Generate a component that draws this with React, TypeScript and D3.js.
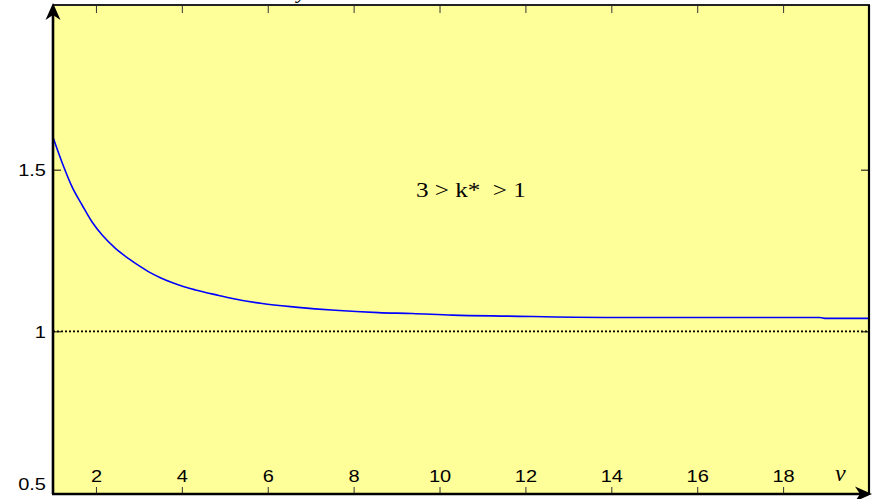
import React, { useEffect, useRef } from 'react';
import * as d3 from 'd3';

// curve: nu on x, k on y
const nuValues = [1, 1.22, 1.45, 1.68, 1.91, 2.15, 2.46, 2.77, 3.0, 3.23, 3.5, 3.77, 4.05, 4.32, 4.86, 5.09, 5.87, 6.64, 7.57, 8.58, 9.36, 10.3, 11.6, 13.85, 18.85, 19.0, 20];
const kValues = [1.6, 1.519, 1.445, 1.39, 1.338, 1.297, 1.256, 1.224, 1.203, 1.184, 1.166, 1.151, 1.138, 1.128, 1.111, 1.104, 1.086, 1.075, 1.065, 1.058, 1.055, 1.05, 1.047, 1.043, 1.043, 1.04, 1.04];

const xTicks = [2, 4, 6, 8, 10, 12, 14, 16, 18];
const yTicks = [0.5, 1, 1.5];
const yTickLabels = ['0.5', '1', '1.5'];
const refLevel = 1;

const width = 875;
const height = 499;
const margin = { left: 53, right: 6, top: 5, bottom: 6 };
const sansFont = '"Liberation Sans", Arial, sans-serif';
const serifFont = '"Liberation Serif", "Times New Roman", serif';

export default function App() {
    const svgRef = useRef<SVGSVGElement>(null);

    useEffect(() => {
        const svg = d3.select(svgRef.current);
        svg.selectAll('*').remove();

        const x0 = margin.left;
        const x1 = width - margin.right;
        const y0 = height - margin.bottom;
        const y1 = margin.top;

        const xScale = d3.scaleLinear().domain([1, 20]).range([x0, x1]);
        const yScale = d3.scaleLinear().domain([0.5, 2]).range([y0, y1 + 3]);

        // plot background
        svg.append('rect')
            .attr('x', x0).attr('y', y1)
            .attr('width', x1 - x0).attr('height', y0 - y1)
            .attr('fill', '#ffff99');

        // axis label cut off at the very top, as in the source
        svg.append('text')
            .attr('x', 297).attr('y', -2)
            .attr('font-family', serifFont)
            .attr('font-style', 'italic')
            .attr('font-size', 22)
            .text('y');

        // reference line k = 1
        svg.append('line')
            .attr('x1', x0).attr('x2', x1)
            .attr('y1', yScale(refLevel)).attr('y2', yScale(refLevel))
            .attr('stroke', '#000')
            .attr('stroke-width', 1.6)
            .attr('stroke-dasharray', '2,2');

        // curve
        const points = nuValues.map((v, i) => [v, kValues[i]] as [number, number]);
        const line = d3.line<[number, number]>()
            .x((d) => xScale(d[0]))
            .y((d) => yScale(d[1]))
            .curve(d3.curveMonotoneX);
        svg.append('path')
            .attr('d', line(points))
            .attr('fill', 'none')
            .attr('stroke', '#0000ff')
            .attr('stroke-width', 1.6);

        // ticks: bottom (up), top (down), left and right (inward)
        const bottomAxis = d3.axisBottom(xScale).tickValues(xTicks).tickSize(-6).tickFormat(d3.format('d'));
        const gb = svg.append('g').attr('transform', `translate(0, ${y0})`).call(bottomAxis);
        gb.select('.domain').remove();
        gb.selectAll('line').attr('stroke', '#333').attr('stroke-width', 1);
        gb.selectAll('text')
            .attr('y', -11).attr('dy', 0)
            .attr('transform', 'scale(1.25,1)')
            .attr('font-family', sansFont)
            .attr('font-size', 16)
            .attr('fill', '#000');

        const topAxis = d3.axisTop(xScale).tickValues(xTicks).tickSize(-8).tickFormat(() => '');
        const gt = svg.append('g').attr('transform', `translate(0, ${y1})`).call(topAxis);
        gt.select('.domain').remove();
        gt.selectAll('line').attr('stroke', '#333').attr('stroke-width', 1);

        const leftAxis = d3.axisLeft(yScale).tickValues(yTicks.slice(1)).tickSize(-8).tickFormat(() => '');
        const gl = svg.append('g').attr('transform', `translate(${x0}, 0)`).call(leftAxis);
        gl.select('.domain').remove();
        gl.selectAll('line').attr('stroke', '#000').attr('stroke-width', 1);

        const rightAxis = d3.axisRight(yScale).tickValues(yTicks.slice(1)).tickSize(-8).tickFormat(() => '');
        const gr = svg.append('g').attr('transform', `translate(${x1}, 0)`).call(rightAxis);
        gr.select('.domain').remove();
        gr.selectAll('line').attr('stroke', '#000').attr('stroke-width', 1);

        // y tick labels outside the left axis
        svg.append('g').selectAll('text')
            .data(yTicks)
            .enter().append('text')
            .attr('transform', (d) => `translate(${x0 - 7}, ${Math.min(yScale(d) + 2, y0 - 7)}) scale(1.25,1)`)
            .attr('text-anchor', 'end')
            .attr('dominant-baseline', 'middle')
            .attr('font-family', sansFont)
            .attr('font-size', 16)
            .text((_, i) => yTickLabels[i]);

        // frame
        svg.append('line')
            .attr('x1', x0).attr('x2', x1 + 1)
            .attr('y1', y1).attr('y2', y1)
            .attr('stroke', '#222').attr('stroke-width', 2);
        svg.append('line')
            .attr('x1', x1).attr('x2', x1)
            .attr('y1', y1).attr('y2', y0)
            .attr('stroke', '#000').attr('stroke-width', 2.2);
        svg.append('line')
            .attr('x1', x0).attr('x2', x0)
            .attr('y1', y0 + 1).attr('y2', y1 + 8)
            .attr('stroke', '#000').attr('stroke-width', 2.6);
        svg.append('line')
            .attr('x1', x0 - 1).attr('x2', x1 - 6)
            .attr('y1', y0 + 1).attr('y2', y0 + 1)
            .attr('stroke', '#000').attr('stroke-width', 2.4);

        // arrowheads
        const ax = x0;
        const ay = 3;
        svg.append('path')
            .attr('d', `M${ax},${ay} L${ax - 7.5},${ay + 17} L${ax},${ay + 12} L${ax + 7.5},${ay + 17} Z`)
            .attr('fill', '#000');
        const bx = width - 3;
        const by = y0 + 1;
        svg.append('path')
            .attr('d', `M${bx},${by} L${bx - 17},${by - 7.5} L${bx - 12},${by} L${bx - 17},${by + 7.5} Z`)
            .attr('fill', '#000');

        // annotations
        svg.append('text')
            .attr('transform', 'translate(416, 197) scale(1.14,1)')
            .attr('font-family', serifFont)
            .attr('font-size', 22)
            .attr('xml:space', 'preserve')
            .style('white-space', 'pre')
            .text('3 > k*  > 1');
        svg.append('text')
            .attr('x', 835).attr('y', 481)
            .attr('font-family', serifFont)
            .attr('font-style', 'italic')
            .attr('font-size', 24)
            .text('ν');
    }, []);

    return (
        <svg ref={svgRef} width={width} height={height}
            style={{ position: 'absolute', left: 0, top: 0, background: '#fff' }} />
    );
}
